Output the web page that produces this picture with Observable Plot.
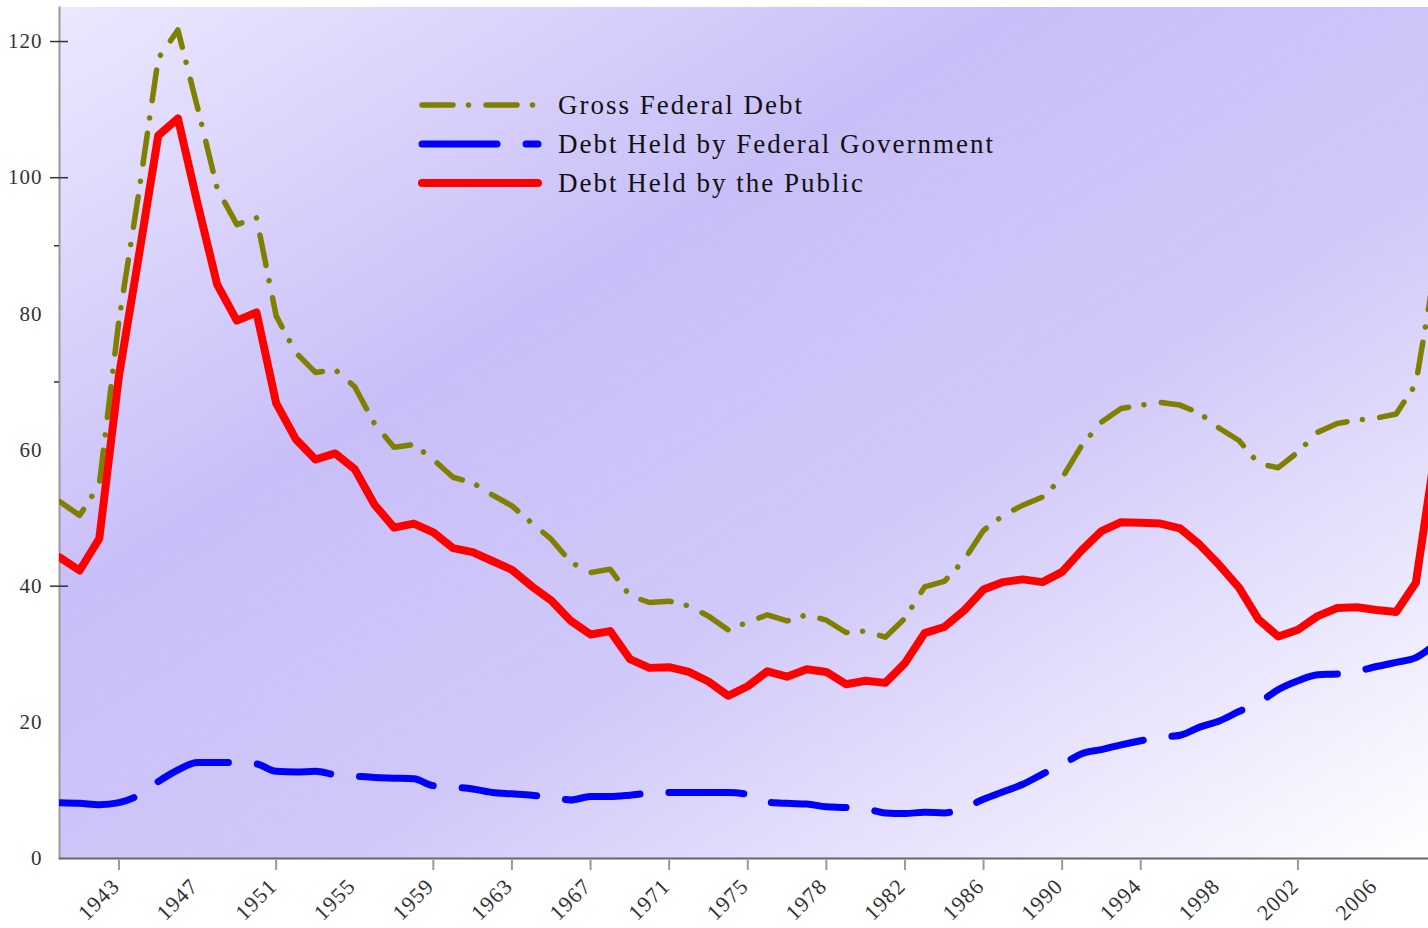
<!DOCTYPE html>
<html>
<head>
<meta charset="utf-8">
<script src="https://cdn.jsdelivr.net/npm/d3@7"></script>
<script src="https://cdn.jsdelivr.net/npm/@observablehq/plot@0.6"></script>
<style>
  html, body { margin: 0; padding: 0; background: #fff; overflow: hidden; }
  #chart svg text { letter-spacing: 1px; }
  #chart svg .legend text { letter-spacing: 2px; }
</style>
</head>
<body>
<div id="chart"></div>
<script>
// Fiscal years (TQ = transition quarter 1976)
const years = [
  "1940","1941","1942","1943","1944","1945","1946","1947","1948","1949",
  "1950","1951","1952","1953","1954","1955","1956","1957","1958","1959",
  "1960","1961","1962","1963","1964","1965","1966","1967","1968","1969",
  "1970","1971","1972","1973","1974","1975","1976","TQ","1977","1978","1979",
  "1980","1981","1982","1983","1984","1985","1986","1987","1988","1989",
  "1990","1991","1992","1993","1994","1995","1996","1997","1998","1999",
  "2000","2001","2002","2003","2004","2005","2006","2007","2008","2009"
];

// Gross Federal Debt (% of GDP)
const grossDebt = [
  52.4, 50.4, 54.9, 79.1, 97.6, 117.5, 121.7, 110.3, 98.4, 93.1,
  94.1, 79.7, 74.3, 71.4, 71.8, 69.3, 63.9, 60.4, 60.8, 58.6,
  56.0, 55.2, 53.4, 51.8, 49.3, 46.9, 43.5, 42.0, 42.5, 38.6,
  37.6, 37.8, 37.1, 35.6, 33.6, 34.7, 35.8, 34.9, 35.8, 35.0, 33.2,
  33.4, 32.5, 35.3, 39.9, 40.7, 43.8, 48.2, 50.4, 51.9, 53.1,
  55.9, 60.7, 64.1, 66.1, 66.6, 67.0, 66.6, 65.4, 63.2, 61.4,
  58.0, 57.4, 59.7, 62.6, 63.9, 64.4, 64.7, 65.3, 69.7, 87.0
];

// Debt Held by Federal Government accounts (% of GDP)
const govtDebt = [
  8.2, 8.1, 7.9, 8.2, 9.3, 11.3, 13.0, 14.1, 14.1, 14.1,
  13.9, 12.8, 12.7, 12.8, 12.3, 12.1, 11.9, 11.8, 11.7, 10.7,
  10.5, 10.2, 9.7, 9.5, 9.3, 9.0, 8.6, 9.1, 9.1, 9.3,
  9.6, 9.7, 9.7, 9.7, 9.7, 9.4, 8.3, 8.1, 8.0, 7.6, 7.5,
  7.3, 6.7, 6.6, 6.8, 6.7, 7.4, 8.7, 9.8, 10.9, 12.4,
  13.8, 15.4, 16.0, 16.7, 17.3, 17.8, 18.1, 19.3, 20.2, 21.6,
  22.9, 24.8, 26.1, 27.0, 27.1, 27.5, 28.2, 28.8, 29.5, 31.5
];

// Debt Held by the Public (% of GDP)
const publicDebt = [
  44.2, 42.3, 47.0, 70.9, 88.3, 106.2, 108.7, 96.2, 84.3, 79.0,
  80.2, 66.9, 61.6, 58.6, 59.5, 57.2, 52.0, 48.6, 49.2, 47.9,
  45.6, 45.0, 43.7, 42.4, 40.0, 37.9, 34.9, 32.9, 33.4, 29.3,
  28.0, 28.1, 27.4, 26.0, 23.9, 25.3, 27.5, 26.7, 27.8, 27.4, 25.6,
  26.1, 25.8, 28.7, 33.1, 34.0, 36.4, 39.5, 40.6, 41.0, 40.6,
  42.1, 45.3, 48.1, 49.4, 49.3, 49.2, 48.5, 46.1, 43.1, 39.8,
  35.1, 32.6, 33.6, 35.6, 36.8, 36.9, 36.5, 36.2, 40.5, 60.0
];

const seriesNames = ["Gross Federal Debt", "Debt Held by Federal Government", "Debt Held by the Public"];

// Axis tick labels
const xLabelYears = ["1943","1947","1951","1955","1959","1963","1967","1971","1975","1978","1982","1986","1990","1994","1998","2002","2006"];
const xTickYears = ["1943","1951","1959","1963","1967","1971","1975","1978","1982","1986","1990","1994","2002"];
const yLabels = [0, 20, 40, 60, 80, 100, 120];
const yMajorTicks = [120, 100, 40];
const yMinorTicks = [90, 70];

// Styles (not data)
const FONT = "'Liberation Serif', 'DejaVu Serif', serif";
const styles = [
  {color: "#808000", width: 5.5, dash: "31,15.5,0.01,17.5", curve: "linear"},
  {color: "#0000ff", width: 7, dash: "75,29", curve: "monotone-x"},
  {color: "#ff0000", width: 8, dash: null, curve: "linear"}
];

const seriesValues = [grossDebt, govtDebt, publicDebt];
const tables = seriesValues.map(vals => years.map((yr, i) => ({year: yr, value: vals[i]})));

function background(index, scales, values, dims) {
  const {width, height, marginTop, marginLeft, marginRight, marginBottom} = dims;
  const g = d3.create("svg:g");
  const grad = g.append("defs").append("linearGradient")
    .attr("id", "bgGrad").attr("x1", 0).attr("y1", 0).attr("x2", 1).attr("y2", 1);
  [[0, "#ece8fe"], [0.35, "#c9bff8"], [0.6, "#d0c8f9"], [1, "#ffffff"]].forEach(([o, c]) =>
    grad.append("stop").attr("offset", o).attr("stop-color", c));
  g.append("rect")
    .attr("x", marginLeft).attr("y", marginTop)
    .attr("width", width - marginLeft - marginRight)
    .attr("height", height - marginTop - marginBottom)
    .attr("fill", "url(#bgGrad)");
  return g.node();
}

function legend() {
  const g = d3.create("svg:g").attr("class", "legend");
  const x0 = 422, x1 = 538, tx = 558, y0 = 105, dy = 39;
  seriesNames.forEach((name, i) => {
    const s = styles[i];
    const y = y0 + i * dy;
    g.append("line")
      .attr("x1", x0).attr("x2", x1).attr("y1", y).attr("y2", y)
      .attr("stroke", s.color).attr("stroke-width", s.width)
      .attr("stroke-linecap", "round")
      .attr("stroke-dasharray", s.dash);
    g.append("text")
      .attr("x", tx).attr("y", y).attr("dy", "0.35em")
      .attr("text-anchor", "start")
      .attr("font-family", FONT)
      .attr("font-size", 27).attr("fill", "#111")
      .text(name);
  });
  return g.node();
}

const chart = Plot.plot({
  width: 1428,
  height: 928,
  marginTop: 7,
  marginBottom: 70,
  marginLeft: 59,
  marginRight: 0,
  style: {background: "white", fontFamily: FONT, fontSize: "21px", color: "#333"},
  x: {type: "point", domain: years, range: [59.5, 1435], padding: 0},
  y: {domain: [0, 125]},
  marks: [
    background,
    Plot.frame({anchor: "left", stroke: "#999", strokeWidth: 2}),
    ...tables.map((t, i) => Plot.line(t, {
      x: "year", y: "value",
      stroke: styles[i].color,
      strokeWidth: styles[i].width,
      strokeDasharray: styles[i].dash,
      strokeLinecap: "round",
      strokeLinejoin: "round",
      curve: styles[i].curve,
      clip: "frame"
    })),
    Plot.ruleY([0], {stroke: "#666", strokeWidth: 2}),
    Plot.axisY(yLabels, {tickSize: 0, tickPadding: 17, fontSize: 21, fontFamily: FONT, fill: "#333", label: null}),
    Plot.axisY(yMajorTicks, {tickSize: 18, dx: 9, fill: "none", stroke: "#333", strokeWidth: 1.5, label: null}),
    Plot.axisY(yMinorTicks, {tickSize: 5, fill: "none", stroke: "#333", strokeWidth: 1.5, label: null}),
    Plot.axisX(xTickYears, {tickSize: 10, dy: 2, fill: "none", stroke: "#999", strokeWidth: 2, label: null}),
    Plot.axisX(xLabelYears, {tickSize: 0, tickPadding: 24, dx: -3, tickRotate: -45, fontSize: 22, fontFamily: FONT, fill: "#333", label: null}),
    legend
  ]
});

document.getElementById("chart").appendChild(chart);
</script>
</body>
</html>
